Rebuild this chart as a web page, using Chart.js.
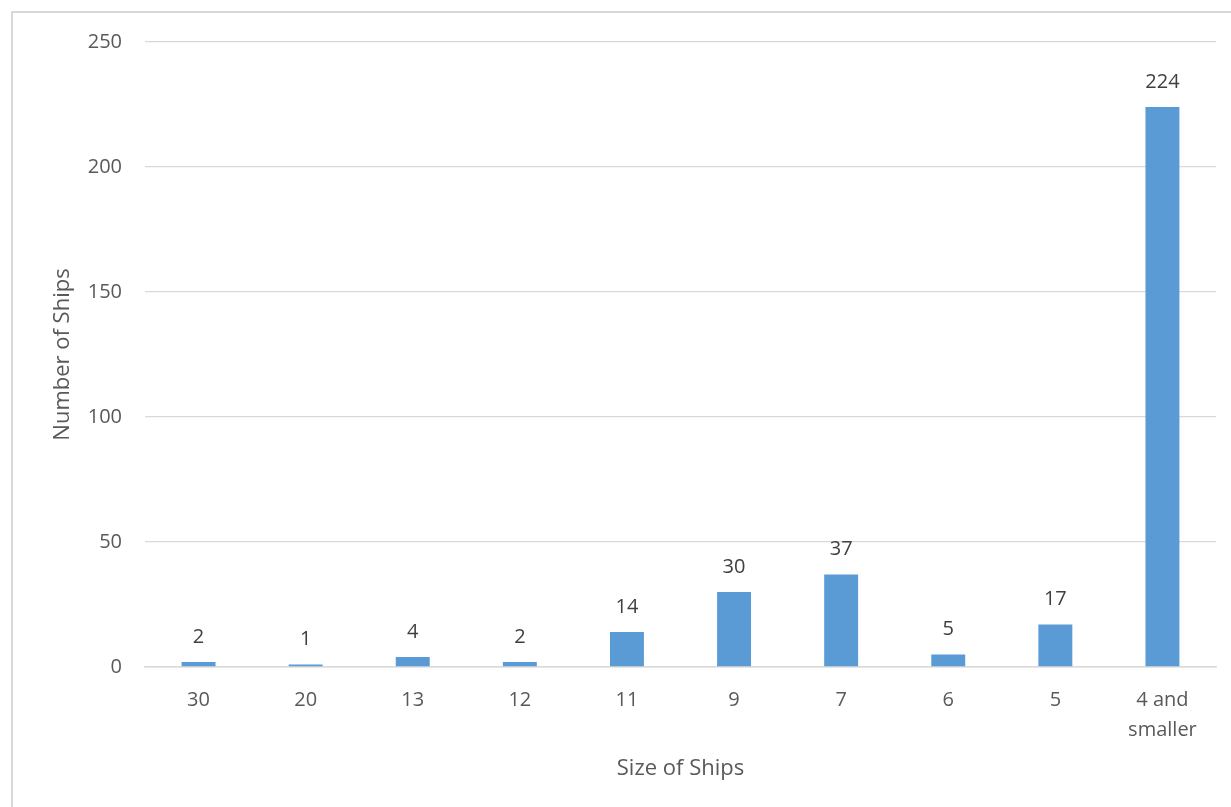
<!DOCTYPE html>
<html>
<head>
<meta charset="utf-8">
<script src="https://cdn.jsdelivr.net/npm/chart.js@4"></script>
<style>
  html, body { margin: 0; padding: 0; background: #fff; }
  #frame {
    position: absolute; left: 11px; top: 11px; width: 1300px; height: 900px;
    border-left: 2px solid #D9D9D9; border-top: 2px solid #D9D9D9;
  }
  #wrap { position: absolute; left: 0; top: 0; width: 1231px; height: 807px; }
</style>
</head>
<body>
<div id="frame"></div>
<div id="wrap"><canvas id="c" width="1231" height="807"></canvas></div>
<script>
// Ship sizes and how many ships of each size
const sizeLabels = ['30', '20', '13', '12', '11', '9', '7', '6', '5', ['4 and', 'smaller']];
const shipCounts = [2, 1, 4, 2, 14, 30, 37, 5, 17, 224];
const yTicks = [0, 50, 100, 150, 200, 250];

const FONT = "'Open Sans', 'Noto Sans', sans-serif";
const TEXT = '#595959';
const GRID = '#D9D9D9';

// writes each bar's value above it
const valueLabels = {
  id: 'valueLabels',
  afterDatasetsDraw(chart) {
    const ctx = chart.ctx;
    const meta = chart.getDatasetMeta(0);
    ctx.save();
    ctx.font = '20px ' + FONT;
    ctx.fillStyle = '#404040';
    ctx.textAlign = 'center';
    ctx.textBaseline = 'middle';
    meta.data.forEach((bar, i) => {
      ctx.fillText(String(shipCounts[i]), bar.x, bar.y - 25);
    });
    ctx.restore();
  }
};

new Chart(document.getElementById('c'), {
  type: 'bar',
  data: {
    labels: sizeLabels,
    datasets: [{
      data: shipCounts,
      backgroundColor: '#5B9BD5',
      borderWidth: 0,
      categoryPercentage: 1,
      barPercentage: 0.317
    }]
  },
  options: {
    responsive: false,
    animation: false,
    events: [],
    layout: { padding: { left: 12, top: 42, right: 15, bottom: 0 } },
    plugins: { legend: { display: false }, tooltip: { enabled: false } },
    scales: {
      x: {
        grid: { display: false },
        border: { display: true, color: GRID, width: 1.5 },
        ticks: {
          color: TEXT, font: { family: FONT, size: 20, lineHeight: 1.5 },
          padding: 10, maxRotation: 0, autoSkip: false
        },
        title: {
          display: true, text: 'Size of Ships', color: TEXT,
          font: { family: FONT, size: 22 }, padding: { top: 0, bottom: 25 }
        },
        afterFit(scale) { scale.height = 807 - 667; }
      },
      y: {
        min: 0, max: 250,
        afterBuildTicks(scale) { scale.ticks = yTicks.map(v => ({ value: v })); },
        grid: { color: GRID, lineWidth: 1.3, drawTicks: false },
        border: { display: false },
        ticks: { color: TEXT, font: { family: FONT, size: 20 }, padding: 23 },
        title: {
          display: true, text: 'Number of Ships', color: TEXT,
          font: { family: FONT, size: 22 }, padding: { top: 38, bottom: 0 }
        },
        afterFit(scale) { scale.width = 145 - 12; }
      }
    }
  },
  plugins: [valueLabels]
});
</script>
</body>
</html>
